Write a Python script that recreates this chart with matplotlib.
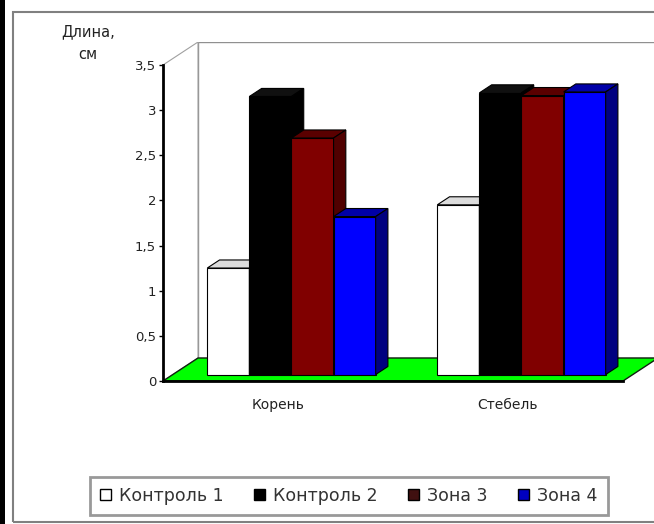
import matplotlib
matplotlib.use("Agg")
import matplotlib.pyplot as plt
from matplotlib.patches import Polygon, Rectangle, Patch

# ---------------- data ----------------
categories = ["Корень", "Стебель"]
series_names = ["Контроль 1", "Контроль 2", "Зона 3", "Зона 4"]
kontrol1 = [1.18, 1.88]
kontrol2 = [3.08, 3.12]
zona3 = [2.62, 3.09]
zona4 = [1.75, 3.13]
values = [kontrol1, kontrol2, zona3, zona4]
yticks = [0, 0.5, 1, 1.5, 2, 2.5, 3, 3.5]
ytick_labels = ["0", "0,5", "1", "1,5", "2", "2,5", "3", "3,5"]
ylabel = "Длина,\nсм"

# ---------------- styles ----------------
front_colors = ["#ffffff", "#000000", "#800000", "#0000ff"]
top_colors = ["#dcdcdc", "#101010", "#5a0000", "#0000a8"]
side_colors = ["#c0c0c0", "#000000", "#500000", "#000080"]

W, H = 654, 524
fig = plt.figure(figsize=(W / 100, H / 100), dpi=100)
plt.rcParams['font.family'] = ['DejaVu Sans']

YMAX = 3.5
DX = 35 / 230.0      # depth offset in category units
DY = 23 / 90.3       # depth offset in value units
ncat = len(categories)

ax_left, ax_right = 163, 163 + ncat * 230 + 35
ax_top, ax_bottom = 42, 381
ax = fig.add_axes([ax_left / W, (H - ax_bottom) / H,
                   (ax_right - ax_left) / W, (ax_bottom - ax_top) / H])
ax.set_xlim(0, ncat + DX)
ax.set_ylim(0, YMAX + DY)
ax.patch.set_alpha(0)

# walls
ax.add_patch(Rectangle((DX, DY), ncat, YMAX, facecolor="white",
                       edgecolor="#909090", lw=1.0, zorder=0.5))
ax.add_patch(Polygon([(0, 0), (DX, DY), (DX, YMAX + DY), (0, YMAX)],
                     closed=True, facecolor="white", edgecolor="#a0a0a0",
                     lw=0.8, zorder=0.6))
# floor
ax.add_patch(Polygon([(0, 0), (ncat, 0), (ncat + DX, DY), (DX, DY)],
                     closed=True, facecolor="#00ff00", edgecolor="#102010",
                     lw=1.0, zorder=1))

# bars
group_start = 0.15
bar_w = 0.183
f_front = 0.28   # depth fraction of front face
f_depth = 0.35   # bar depth fraction
for j, vals in enumerate(values):
    z = 3 + j * 0.1
    for i, v in enumerate(vals):
        xf = i + group_start + j * bar_w + f_front * DX
        yf = f_front * DY
        ax.bar(xf, v, width=bar_w, bottom=yf, align="edge",
               color=front_colors[j], edgecolor="black", lw=0.8, zorder=z)
        ddx, ddy = f_depth * DX, f_depth * DY
        ax.add_patch(Polygon([(xf, yf + v), (xf + bar_w, yf + v),
                              (xf + bar_w + ddx, yf + v + ddy),
                              (xf + ddx, yf + v + ddy)], closed=True,
                             facecolor=top_colors[j], edgecolor="black",
                             lw=0.8, zorder=z))
        ax.add_patch(Polygon([(xf + bar_w, yf), (xf + bar_w + ddx, yf + ddy),
                              (xf + bar_w + ddx, yf + v + ddy),
                              (xf + bar_w, yf + v)], closed=True,
                             facecolor=side_colors[j], edgecolor="black",
                             lw=0.8, zorder=z))

# axes
for s in ["top", "right"]:
    ax.spines[s].set_visible(False)
ax.spines["left"].set_bounds(0, YMAX)
ax.spines["left"].set_linewidth(2)
ax.spines["bottom"].set_bounds(0, ncat)
ax.spines["bottom"].set_linewidth(2)
ax.spines["left"].set_zorder(5)
ax.spines["bottom"].set_zorder(5)
ax.set_yticks(yticks)
ax.set_yticklabels(ytick_labels, fontsize=9.5, color="#222222")
ax.tick_params(axis="y", length=3, width=1, pad=2, direction="out")
ax.set_xticks([i + 0.5 for i in range(ncat)])
ax.set_xticklabels(categories, fontsize=10, color="#222222")
ax.tick_params(axis="x", length=0, pad=12)

fig.text(88 / W, 1 - 43 / H, ylabel, ha="center", va="center",
         fontsize=10.5, color="#222222", linespacing=1.7)

# legend
handles = [Patch(facecolor=c, edgecolor="black", lw=1) for c in
           ["#ffffff", "#000000", "#401010", "#0000c0"]]
leg = fig.legend(handles, series_names, ncol=4, loc="center",
                 bbox_to_anchor=(349 / W, 1 - 496 / H), fontsize=12.5,
                 frameon=True, fancybox=False, handlelength=0.6,
                 handleheight=0.6, handletextpad=0.5, columnspacing=1.75,
                 borderpad=0.6, labelcolor="#333333")
leg.get_frame().set_edgecolor("#808080")
leg.get_frame().set_linewidth(2)

# outer frame
fig.patches.append(Rectangle((0, 0), 5 / W, 1, transform=fig.transFigure,
                             facecolor="black", edgecolor="none"))
fig.patches.append(Rectangle((13 / W, 2 / H), 1, 1 - 14 / H,
                             transform=fig.transFigure, facecolor="none",
                             edgecolor="#808080", lw=1.5))

fig.savefig("out.png", dpi=100)
